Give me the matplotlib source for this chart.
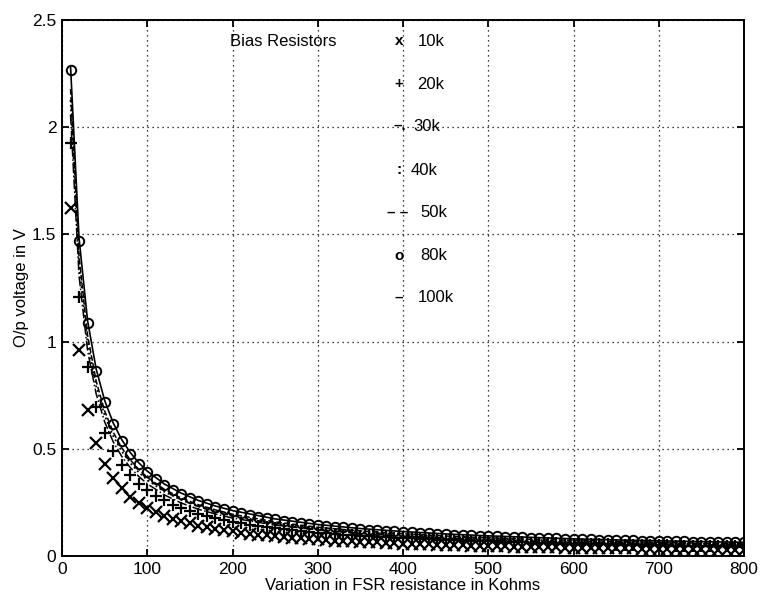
import matplotlib
matplotlib.use("Agg")
import matplotlib.pyplot as plt
import numpy as np

plt.rcParams['font.family'] = ['Liberation Sans', 'DejaVu Sans']

# FSR resistance (Kohms) for marker series
x_pts = list(range(10, 801, 10))

v_10k = [1.625, 0.959, 0.680, 0.527, 0.430, 0.363, 0.315, 0.277, 0.248, 0.224,
         0.205, 0.188, 0.174, 0.162, 0.152, 0.142, 0.134, 0.127, 0.120, 0.115,
         0.109, 0.104, 0.100, 0.096, 0.092, 0.089, 0.085, 0.082, 0.080, 0.077,
         0.074, 0.072, 0.070, 0.068, 0.066, 0.064, 0.063, 0.061, 0.059, 0.058,
         0.057, 0.055, 0.054, 0.053, 0.052, 0.050, 0.049, 0.048, 0.047, 0.046,
         0.046, 0.045, 0.044, 0.043, 0.042, 0.042, 0.041, 0.040, 0.039, 0.039,
         0.038, 0.038, 0.037, 0.036, 0.036, 0.035, 0.035, 0.034, 0.034, 0.033,
         0.033, 0.032, 0.032, 0.031, 0.031, 0.031, 0.030, 0.030, 0.030, 0.029]

v_20k = [1.927, 1.209, 0.882, 0.694, 0.573, 0.488, 0.425, 0.376, 0.338, 0.306,
         0.281, 0.259, 0.240, 0.224, 0.210, 0.198, 0.187, 0.177, 0.168, 0.160,
         0.153, 0.146, 0.140, 0.135, 0.130, 0.125, 0.121, 0.117, 0.113, 0.109,
         0.106, 0.103, 0.100, 0.097, 0.095, 0.092, 0.090, 0.088, 0.085, 0.083,
         0.082, 0.080, 0.078, 0.076, 0.075, 0.073, 0.072, 0.070, 0.069, 0.068,
         0.067, 0.065, 0.064, 0.063, 0.062, 0.061, 0.060, 0.059, 0.058, 0.057,
         0.056, 0.056, 0.055, 0.054, 0.053, 0.052, 0.052, 0.051, 0.050, 0.050,
         0.049, 0.048, 0.048, 0.047, 0.047, 0.046, 0.046, 0.045, 0.045, 0.044]

v_80k = [2.268, 1.468, 1.087, 0.864, 0.717, 0.614, 0.537, 0.477, 0.430, 0.391,
         0.359, 0.332, 0.309, 0.289, 0.271, 0.256, 0.242, 0.230, 0.219, 0.209,
         0.200, 0.192, 0.184, 0.177, 0.171, 0.165, 0.160, 0.154, 0.150, 0.145,
         0.141, 0.137, 0.133, 0.130, 0.127, 0.123, 0.121, 0.118, 0.115, 0.113,
         0.110, 0.108, 0.106, 0.104, 0.102, 0.100, 0.098, 0.096, 0.094, 0.093,
         0.091, 0.090, 0.088, 0.087, 0.086, 0.084, 0.083, 0.082, 0.081, 0.079,
         0.078, 0.077, 0.076, 0.075, 0.074, 0.073, 0.073, 0.072, 0.071, 0.070,
         0.069, 0.068, 0.068, 0.067, 0.066, 0.065, 0.065, 0.064, 0.063, 0.063]

# FSR resistance (Kohms) for line series
x_line = [10, 20, 30, 40, 50, 60, 70, 80, 90, 100, 120, 140, 160, 180, 200,
          250, 300, 350, 400, 450, 500, 550, 600, 650, 700, 750, 800]

v_30k = [2.058, 1.306, 0.958, 0.757, 0.626, 0.533, 0.465, 0.413, 0.371, 0.337,
         0.285, 0.247, 0.218, 0.196, 0.177, 0.144, 0.122, 0.105, 0.093, 0.084,
         0.076, 0.070, 0.064, 0.060, 0.056, 0.053, 0.050]
v_40k = [2.127, 1.359, 1.000, 0.792, 0.656, 0.560, 0.489, 0.434, 0.390, 0.355,
         0.300, 0.261, 0.231, 0.207, 0.188, 0.153, 0.129, 0.112, 0.100, 0.090,
         0.082, 0.075, 0.069, 0.065, 0.061, 0.057, 0.054]
v_50k = [2.178, 1.398, 1.030, 0.817, 0.677, 0.578, 0.505, 0.449, 0.404, 0.367,
         0.311, 0.270, 0.239, 0.215, 0.195, 0.159, 0.134, 0.117, 0.104, 0.093,
         0.085, 0.078, 0.073, 0.068, 0.064, 0.060, 0.057]
v_100k = [2.285, 1.482, 1.098, 0.873, 0.726, 0.621, 0.543, 0.483, 0.435, 0.396,
          0.336, 0.293, 0.259, 0.233, 0.212, 0.173, 0.147, 0.128, 0.114, 0.103,
          0.094, 0.087, 0.080, 0.075, 0.071, 0.067, 0.064]

legend_syms = ["x", "+", "\u2013.", ":", "\u2013 \u2013", "o", "\u2013"]
legend_labels = ["10k", "20k", "30k", "40k", "50k", "80k", "100k"]

x_ticks = [0, 100, 200, 300, 400, 500, 600, 700, 800]
y_ticks = [0, 0.5, 1, 1.5, 2, 2.5]
y_tick_labels = ["0", "0.5", "1", "1.5", "2", "2.5"]

fig = plt.figure(figsize=(7.61, 6.0), dpi=100)
ax = fig.add_axes([62/761, 44/600, (744-62)/761, (556-20)/600])

k = 'black'
ax.plot(x_pts, v_10k, linestyle='none', marker='x', color=k, markersize=8, markeredgewidth=1.6)
ax.plot(x_pts, v_20k, linestyle='none', marker='+', color=k, markersize=8.5, markeredgewidth=1.6)
ax.plot(x_line, v_30k, linestyle='-.', color=k, linewidth=1.1)
ax.plot(x_line, v_40k, linestyle=':', color=k, linewidth=1.3)
ax.plot(x_line, v_50k, linestyle='--', color=k, linewidth=1.1)
ax.plot(x_pts, v_80k, linestyle='none', marker='o', color=k, markersize=6.8,
        markerfacecolor='none', markeredgewidth=1.4)
ax.plot(x_line, v_100k, linestyle='-', color=k, linewidth=1.2)

ax.set_xlim(0, 800)
ax.set_ylim(0, 2.5)
ax.set_xticks(x_ticks)
ax.set_xticklabels([str(t) for t in x_ticks])
ax.set_yticks(y_ticks)
ax.set_yticklabels(y_tick_labels)
ax.grid(True, linestyle=(0, (1, 3)), color=k, linewidth=0.9)
ax.tick_params(direction='in', length=5, width=1.3, top=True, right=True,
               labelsize=12.5, colors=k, pad=4)
for s in ax.spines.values():
    s.set_linewidth(1.4)
    s.set_color(k)

ax.set_xlabel("Variation in FSR resistance in Kohms", fontsize=12, labelpad=1)
ax.set_ylabel("O/p voltage in V", fontsize=12, labelpad=2)

# text legend
ax.text(197, 2.40, "Bias Resistors", fontsize=12, ha='left', va='center')
leg_y = [2.40, 2.20, 2.005, 1.80, 1.60, 1.40, 1.205]
lab_x = [417, 417, 412, 409, 420, 420, 417]
sym_x = [395, 395, 396, 395, 394, 395, 395]
for sy, lb, yy, lx, sx in zip(legend_syms, legend_labels, leg_y, lab_x, sym_x):
    ax.text(sx, yy, sy, fontsize=11, fontweight='bold', ha='center', va='center')
    ax.text(lx, yy, lb, fontsize=12, ha='left', va='center')

fig.savefig("out.png", dpi=100)
